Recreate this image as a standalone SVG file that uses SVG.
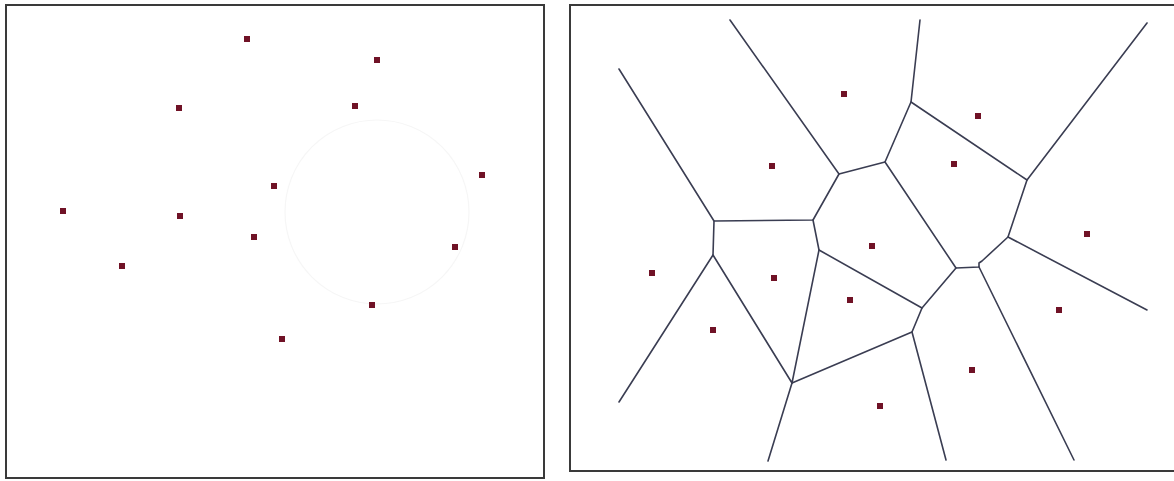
<svg xmlns="http://www.w3.org/2000/svg" width="1174" height="481" viewBox="0 0 1174 481">
<style>
.frame{fill:#fff;stroke:#3a3a3a;stroke-width:2}
.pt{fill:#701226}
.edge{fill:none;stroke:#3a3d52;stroke-width:1.6;stroke-linejoin:round;stroke-linecap:round}
.ghost{fill:none;stroke:#f6f6f6;stroke-width:1.2}
</style>
<rect width="1174" height="481" fill="#fff"/>
<g id="left-panel">
<rect class="frame" x="6" y="5" width="538" height="473"/>
<circle class="ghost" cx="377" cy="212" r="92"/>
<g id="left-points">
<rect class="pt" x="244" y="36" width="6" height="6"/>
<rect class="pt" x="374" y="57" width="6" height="6"/>
<rect class="pt" x="176" y="105" width="6" height="6"/>
<rect class="pt" x="352" y="103" width="6" height="6"/>
<rect class="pt" x="271" y="183" width="6" height="6"/>
<rect class="pt" x="479" y="172" width="6" height="6"/>
<rect class="pt" x="60" y="208" width="6" height="6"/>
<rect class="pt" x="177" y="213" width="6" height="6"/>
<rect class="pt" x="251" y="234" width="6" height="6"/>
<rect class="pt" x="452" y="244" width="6" height="6"/>
<rect class="pt" x="119" y="263" width="6" height="6"/>
<rect class="pt" x="369" y="302" width="6" height="6"/>
<rect class="pt" x="279" y="336" width="6" height="6"/>
</g>
</g>
<g id="right-panel">
<rect class="frame" x="570" y="5" width="620" height="466"/>
<g id="connectors">
<polyline class="edge" points="619,69 714,221 713,255 619,402"/>
<polyline class="edge" points="730,20 839,174 813,220 714,221"/>
<polyline class="edge" points="839,174 885,162 911,102 920,20"/>
<polyline class="edge" points="911,102 1027,180 1147,23"/>
<polyline class="edge" points="1027,180 1008,237 1147,310"/>
<polyline class="edge" points="1008,237 982,261 979,263 979,267 956,268 885,162"/>
<polyline class="edge" points="813,220 819,250 922,308 956,268"/>
<polyline class="edge" points="922,308 912,332 946,460"/>
<polyline class="edge" points="979,267 1074,460"/>
<polyline class="edge" points="713,255 792,383 819,250"/>
<polyline class="edge" points="792,383 912,332"/>
<polyline class="edge" points="792,383 768,461"/>
</g>
<g id="right-points">
<rect class="pt" x="841" y="91" width="6" height="6"/>
<rect class="pt" x="975" y="113" width="6" height="6"/>
<rect class="pt" x="769" y="163" width="6" height="6"/>
<rect class="pt" x="951" y="161" width="6" height="6"/>
<rect class="pt" x="1084" y="231" width="6" height="6"/>
<rect class="pt" x="869" y="243" width="6" height="6"/>
<rect class="pt" x="649" y="270" width="6" height="6"/>
<rect class="pt" x="771" y="275" width="6" height="6"/>
<rect class="pt" x="847" y="297" width="6" height="6"/>
<rect class="pt" x="1056" y="307" width="6" height="6"/>
<rect class="pt" x="710" y="327" width="6" height="6"/>
<rect class="pt" x="969" y="367" width="6" height="6"/>
<rect class="pt" x="877" y="403" width="6" height="6"/>
</g>
</g>
</svg>
